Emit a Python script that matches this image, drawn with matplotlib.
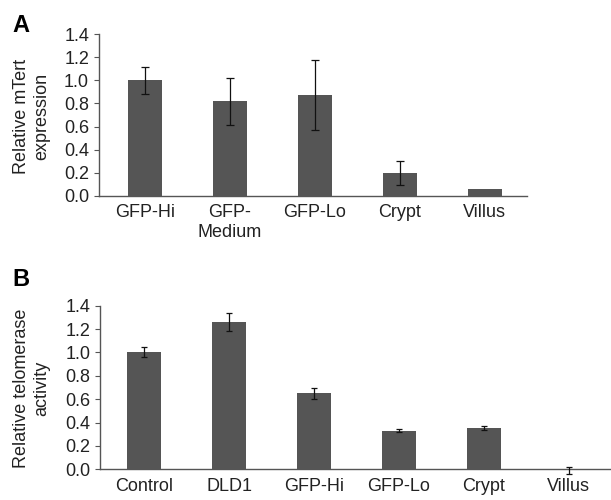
import matplotlib.pyplot as plt

plt.rcParams['font.family'] = ['Liberation Sans', 'DejaVu Sans']

# panel A: relative mTert expression
catsA = ["GFP-Hi", "GFP-\nMedium", "GFP-Lo", "Crypt", "Villus"]
valsA = [1.00, 0.82, 0.875, 0.20, 0.058]
errA = [0.115, 0.205, 0.305, 0.105, 0.0]

# panel B: relative telomerase activity
catsB = ["Control", "DLD1", "GFP-Hi", "GFP-Lo", "Crypt", "Villus"]
valsB = [1.003, 1.26, 0.65, 0.328, 0.352, -0.01]
errB = [0.046, 0.08, 0.045, 0.013, 0.018, 0.03]

yticks = [0.0, 0.2, 0.4, 0.6, 0.8, 1.0, 1.2, 1.4]
barcol = "#555555"
fs = 13

fig = plt.figure(figsize=(6.11, 5.0), dpi=100)


def style(ax, xpad):
    for s in ["top", "right"]:
        ax.spines[s].set_visible(False)
    for s in ["left", "bottom"]:
        ax.spines[s].set_color("#555555")
        ax.spines[s].set_linewidth(1.0)
    ax.set_ylim(0, 1.4)
    ax.set_yticks(yticks)
    ax.set_yticklabels([f"{t:.1f}" for t in yticks])
    ax.tick_params(axis="y", length=3.6, width=0.8, color="#555555",
                   labelsize=fs, pad=3.5, labelcolor="#222222")
    ax.tick_params(axis="x", length=0, labelsize=fs, pad=xpad, labelcolor="#222222")


axA = fig.add_axes([0.162, 0.6086, 0.7005, 0.3228])
xa = range(len(catsA))
axA.bar(xa, valsA, width=0.4, color=barcol, zorder=2)
axA.errorbar(xa[:4], valsA[:4], yerr=errA[:4], fmt="none", ecolor="#111111",
             elinewidth=0.9, capsize=3, capthick=0.9, zorder=3)
axA.set_xticks(list(xa))
axA.set_xticklabels(catsA, linespacing=1.25)
axA.set_xlim(-0.54, 4.5)
style(axA, 6)
axA.set_ylabel("Relative mTert\nexpression", fontsize=fs, linespacing=1.2,
               color="#222222")
axA.yaxis.set_label_coords(50 / 611, 1 - 116 / 500, transform=fig.transFigure)

axB = fig.add_axes([0.1637, 0.0614, 0.8363, 0.3272])
xb = range(len(catsB))
axB.bar(xb, valsB, width=0.4, color=barcol, zorder=2, clip_on=False)
axB.errorbar(xb, valsB, yerr=errB, fmt="none", ecolor="#111111",
             elinewidth=0.9, capsize=2.5, capthick=0.9, zorder=3, clip_on=False)
axB.set_xticks(list(xb))
axB.set_xticklabels(catsB)
axB.set_xlim(-0.52, 5.5)
style(axB, 6.5)
axB.set_ylabel("Relative telomerase\nactivity", fontsize=fs, linespacing=1.2,
               color="#222222")
axB.yaxis.set_label_coords(50 / 611, 1 - 388 / 500, transform=fig.transFigure)

fig.text(12 / 611, 1 - 32 / 500, "A", fontsize=17, fontweight="bold", va="baseline")
fig.text(12 / 611, 1 - 286 / 500, "B", fontsize=17, fontweight="bold", va="baseline")

fig.savefig("out.png", dpi=100)
